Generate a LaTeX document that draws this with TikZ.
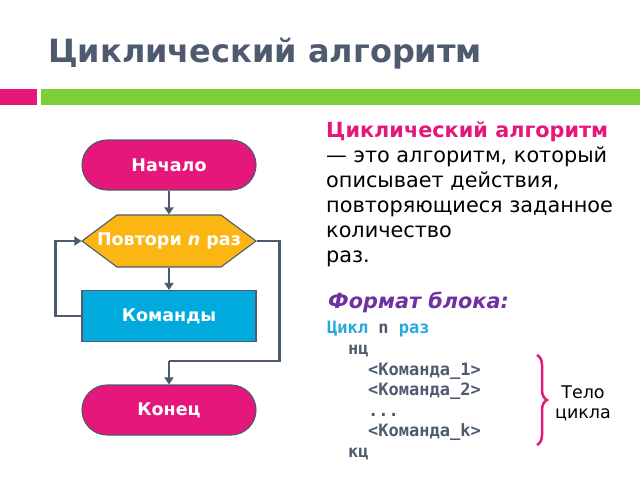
\documentclass[tikz,border=0pt]{standalone}
\usepackage{fontspec}
\setmainfont{DejaVu Sans}
\newfontfamily\monob{DejaVu Sans Mono}
\usetikzlibrary{arrows.meta,decorations.pathreplacing}
\definecolor{slate}{HTML}{4E5A6D}
\definecolor{pinkc}{HTML}{E5177B}
\definecolor{greenc}{HTML}{7DCE3A}
\definecolor{yellowc}{HTML}{FBB614}
\definecolor{bluec}{HTML}{00AADC}
\definecolor{purplec}{HTML}{7030A0}
\definecolor{cyanc}{HTML}{26A9DE}
\tikzset{
  block/.style={draw=slate, line width=1.1pt, text=white, font=\fontsize{17.5}{20}\selectfont\bfseries, minimum width=174pt, inner sep=0pt},
  term/.style={block, fill=pinkc, rounded corners=25pt, minimum height=50pt},
  cmdbox/.style={block, fill=bluec, minimum height=51pt},
  reptext/.style={block, draw=none, minimum height=52pt},
  hexfill/.style={draw=slate, line width=1.1pt, fill=yellowc},
  flow/.style={draw=slate, line width=2.8pt, -{Triangle[length=7pt,width=9pt]}},
  flowl/.style={draw=slate, line width=2.8pt},
  deftext/.style={anchor=base west, inner sep=0pt, font=\fontsize{20.8}{24}\selectfont},
  code/.style={anchor=base west, inner sep=0pt, font=\fontsize{17}{20}\monob\bfseries, text=slate},
}
\begin{document}
\begin{tikzpicture}[x=1pt,y=-1pt]
\useasboundingbox (0,0) rectangle (640,480);
% title
\node[anchor=base west, inner sep=0pt, text=slate, font=\fontsize{32}{38}\selectfont\bfseries] (title) at (48,62) {Циклический алгоритм};
\fill[pinkc] (0,89) rectangle (37,105);
\fill[greenc] (41,89) rectangle (640,105);
% flowchart
\node[term] (start) at (169,165) {Начало};
\path[hexfill] (82,241) -- (117,215) -- (221,215) -- (256,241) -- (221,267) -- (117,267) -- cycle;
\node[reptext] (rep) at (169,241) {Повтори \textit{n} раз};
\node[cmdbox] (cmd) at (169,316) {Команды};
\node[term] (end) at (169,410) {Конец};
\coordinate (m) at (169,361);
\draw[flow] (start) -- (rep);
\draw[flow] (rep) -- (cmd);
\draw[flow] (cmd.west) -- ++(-26,0) |- (rep.west);
\draw[flowl] (rep.east) -- ++(23,0) |- (m);
\draw[flow] (m) -- (end);
% definition
\node[deftext, text=pinkc, font=\fontsize{20.8}{24}\selectfont\bfseries] (d1) at (326,137) {Циклический алгоритм};
\node[deftext] (d2) at (326,162) {— это алгоритм, который};
\node[deftext] (d3) at (326,187) {описывает действия,};
\node[deftext] (d4) at (326,212) {повторяющиеся заданное};
\node[deftext] (d5) at (326,237) {количество};
\node[deftext] (d6) at (326,262) {раз.};
\node[deftext, text=purplec, font=\fontsize{20.8}{24}\selectfont\bfseries\itshape] (fmt) at (328,308) {Формат блока:};
% code
\node[code] (c1) at (327,333) {\textcolor{cyanc}{Цикл} n \textcolor{cyanc}{раз}};
\node[code] (c2) at (348,354) {нц};
\node[code] (c3) at (368,375) {<Команда\_1>};
\node[code] (c4) at (368,395) {<Команда\_2>};
\node[code] (c5) at (368,416) {...};
\node[code] (c6) at (368,436) {<Команда\_k>};
\node[code] (c7) at (348,457) {кц};
% brace
\coordinate (bt) at (537,355);
\coordinate (bb) at (537,445);
\draw[pinkc, line width=2.5pt, decorate, decoration={brace, amplitude=10pt}] (bt) -- (bb);
\node[font=\fontsize{17.5}{20}\selectfont, align=center, inner sep=0pt] (body) at (583,403) {Тело\\цикла};
\end{tikzpicture}
\end{document}
